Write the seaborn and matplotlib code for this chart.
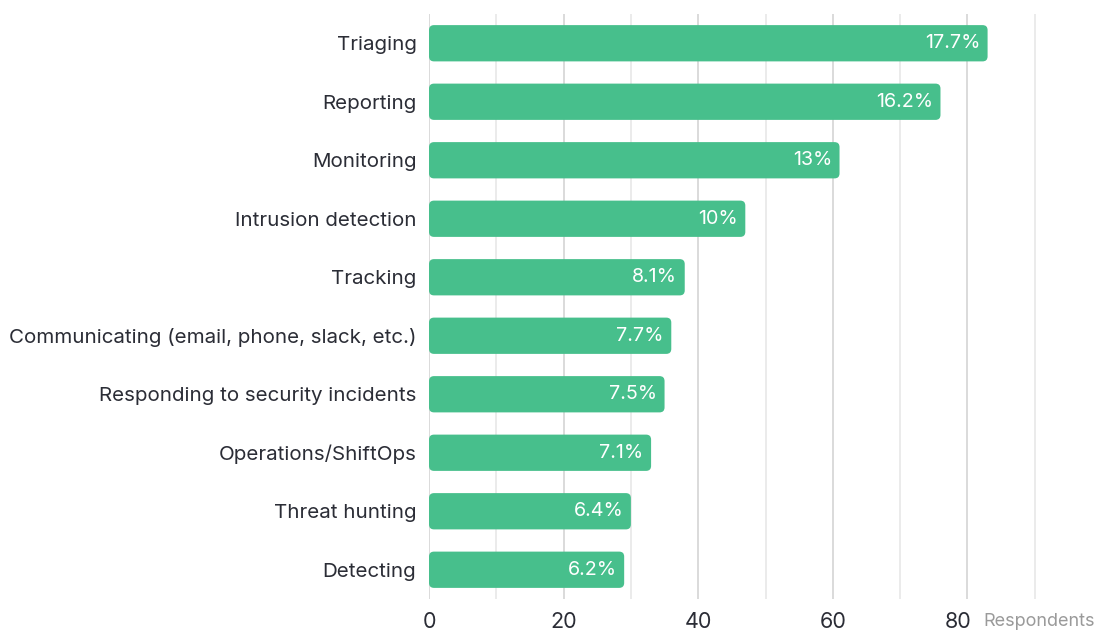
import matplotlib
matplotlib.use("Agg")
import matplotlib.pyplot as plt
import matplotlib.transforms as mtransforms
import seaborn as sns
import pandas as pd
from matplotlib.patches import FancyBboxPatch

categories = [
    "Triaging", "Reporting", "Monitoring", "Intrusion detection", "Tracking",
    "Communicating (email, phone, slack, etc.)", "Responding to security incidents",
    "Operations/ShiftOps", "Threat hunting", "Detecting",
]
respondents = [83, 76, 61, 47, 38, 36, 35, 33, 30, 29]
share_labels = ["17.7%", "16.2%", "13%", "10%", "8.1%", "7.7%", "7.5%", "7.1%", "6.4%", "6.2%"]
x_ticks = [0, 20, 40, 60, 80]

BAR = "#47bf8c"
TEXT = "#2b2d36"

sns.set_theme(style="white")
plt.rcParams["font.family"] = ["Inter", "DejaVu Sans"]

df = pd.DataFrame({"task": categories, "n": respondents})

W, H = 1096, 630
fig = plt.figure(figsize=(W / 100, H / 100), dpi=100)
ax_left, ax_right = 429, 1102
ax_top, ax_bottom = 14, 599
ax = fig.add_axes([ax_left / W, 1 - ax_bottom / H,
                   (ax_right - ax_left) / W, (ax_bottom - ax_top) / H])

sns.barplot(data=df, y="task", x="n", color=BAR, width=0.62, ax=ax, saturation=1)

XMAX = 100
ax.set_xlim(0, XMAX)
ax.set_ylim(len(categories) - 0.5, -0.5)

# rounded bar corners: radius given in x units, rescaled vertically
px_per_x = (ax_right - ax_left) / XMAX
px_per_row = (ax_bottom - ax_top) / len(categories)
radius_px = 5
for p in list(ax.patches):
    x0, y0, w, h = p.get_x(), p.get_y(), p.get_width(), p.get_height()
    p.remove()
    ax.add_patch(FancyBboxPatch(
        (x0, y0), w, h,
        boxstyle=f"round,pad=0,rounding_size={radius_px / px_per_x}",
        mutation_aspect=px_per_x / px_per_row,
        facecolor=BAR, edgecolor="none", zorder=3))

# gridlines: major every 20, lighter ones in between
for v in range(0, 100, 10):
    ax.axvline(v, color="#dadada" if v % 20 == 0 else "#ebebeb", lw=1.4, zorder=0)

for i, (v, lab) in enumerate(zip(respondents, share_labels)):
    ax.text(v - 1.1, i, lab, ha="right", va="center", color="white",
            fontsize=14.2, zorder=4)

ax.set_xticks(x_ticks)
ax.set_xticklabels([str(t) for t in x_ticks], fontsize=15.5, color=TEXT)
ax.tick_params(axis="x", length=0, pad=9)
ax.tick_params(axis="y", length=0, pad=9, labelsize=14.8, labelcolor=TEXT)
ax.set_xlabel("")
ax.set_ylabel("")
for s in ax.spines.values():
    s.set_visible(False)

# nudge the last tick label left to leave room for the axis title
last = ax.get_xticklabels()[-1]
last.set_transform(last.get_transform() +
                   mtransforms.ScaledTranslation(-9 / 100, 0, fig.dpi_scale_trans))

fig.text(983 / W, 1 - 621 / H, "Respondents", ha="left", va="center",
         fontsize=13, color="#9a9a9a")

fig.savefig("out.png", dpi=100)
